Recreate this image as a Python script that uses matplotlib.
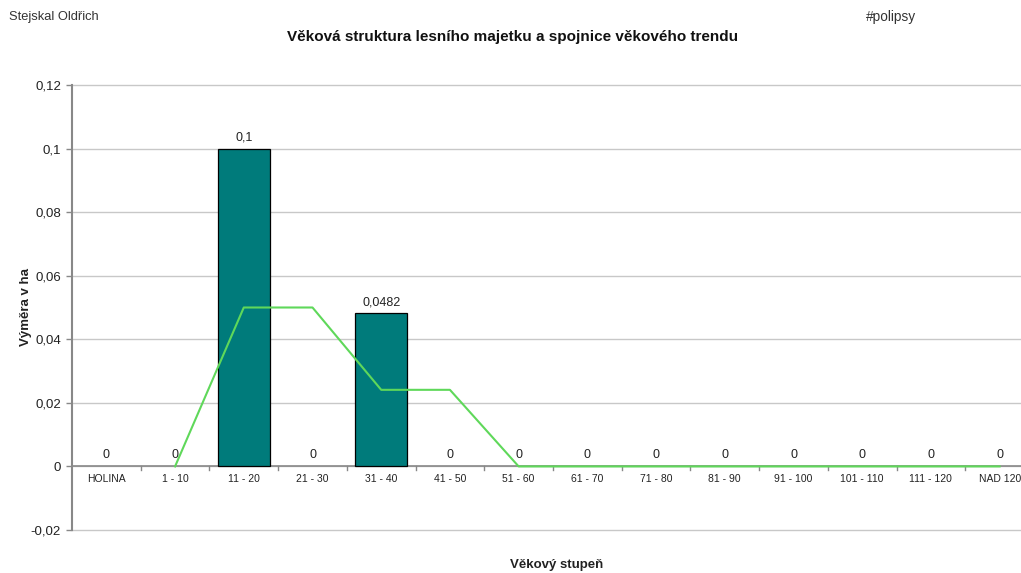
import matplotlib
matplotlib.use("Agg")
import matplotlib.pyplot as plt
from matplotlib.ticker import FuncFormatter, FixedLocator
import numpy as np

plt.rcParams['font.family'] = ['Liberation Sans', 'DejaVu Sans']

categories = ["HOLINA", "1 - 10", "11 - 20", "21 - 30", "31 - 40", "41 - 50",
              "51 - 60", "61 - 70", "71 - 80", "81 - 90", "91 - 100",
              "101 - 110", "111 - 120", "NAD 120"]
area_ha = [0, 0, 0.1, 0, 0.0482, 0, 0, 0, 0, 0, 0, 0, 0, 0]
value_labels = ["0", "0", "0,1", "0", "0,0482", "0", "0", "0", "0", "0",
                "0", "0", "0", "0"]
y_ticks = [-0.02, 0, 0.02, 0.04, 0.06, 0.08, 0.1, 0.12]

# two-period moving-average trend line
vals = np.array(area_ha)
trend_x = np.arange(1, len(vals))
trend_y = (vals[1:] + vals[:-1]) / 2

def comma(v, pos=None):
    s = f"{v:g}"
    if s == "-0":
        s = "0"
    return s.replace(".", ",")

fig = plt.figure(figsize=(10.21, 5.73), dpi=100)
ax = fig.add_axes([72 / 1021, 43 / 573, 962 / 1021, 445 / 573])

x = np.arange(len(categories))
edge_w = [0.9 if v != 0 else 0 for v in area_ha]
ax.bar(x, area_ha, width=0.76, color="#007b7b", edgecolor="black",
       linewidth=edge_w, zorder=3)
ax.plot(trend_x, trend_y, color="#5fd85a", linewidth=1.5, zorder=4)

for xi, v, lab in zip(x, area_ha, value_labels):
    ax.text(xi, v + 0.0016, lab, ha="center", va="bottom", fontsize=9,
            color="#222222", zorder=5)

ax.set_xlim(-0.5, len(categories) - 0.5)
ax.set_ylim(-0.02, 0.12)
ax.yaxis.set_major_locator(FixedLocator(y_ticks))
ax.yaxis.set_major_formatter(FuncFormatter(comma))
ax.tick_params(axis="y", labelsize=9.5, length=4, width=1, color="#888888",
               labelcolor="#222222", pad=4)
for t in y_ticks:
    ax.axhline(t, color="#c8c8c8", linewidth=1, zorder=0, clip_on=False)

for s in ["top", "right", "bottom"]:
    ax.spines[s].set_visible(False)
ax.spines["left"].set_color("#888888")
ax.spines["left"].set_linewidth(1.5)
ax.spines["left"].set_zorder(1)

# category axis drawn along zero
ax.axhline(0, color="#888888", linewidth=1.2, zorder=2)
ax.set_xticks([])
for b in np.arange(0.5, len(categories) - 0.5, 1):
    ax.plot([b, b], [0, -0.0012], color="#888888", linewidth=1, zorder=2)
for xi, c in zip(x, categories):
    ax.text(xi, -0.0025, c, ha="center", va="top", fontsize=7.5,
            color="#222222")

fig.text(26 / 1021, 1 - 307 / 573, "Výměra v ha", rotation=90,
         ha="center", va="center", fontsize=9.5, fontweight="bold",
         color="#222222")

fig.text(557 / 1021, 1 - 565 / 573, "Věkový stupeň", ha="center",
         va="center", fontsize=9.5, fontweight="bold", color="#222222")
fig.text(513 / 1021, 1 - 37 / 573,
         "Věková struktura lesního majetku a spojnice věkového trendu",
         ha="center", va="center", fontsize=11, fontweight="bold",
         color="#111111")
fig.text(9 / 1021, 1 - 17 / 573, "Stejskal Oldřich", ha="left",
         va="center", fontsize=9.3, color="#333333")
fig.text(866 / 1021, 1 - 17 / 573, "#polipsy", ha="left", va="center",
         fontsize=9.8, color="#333333")

fig.savefig("out.png", dpi=100)
